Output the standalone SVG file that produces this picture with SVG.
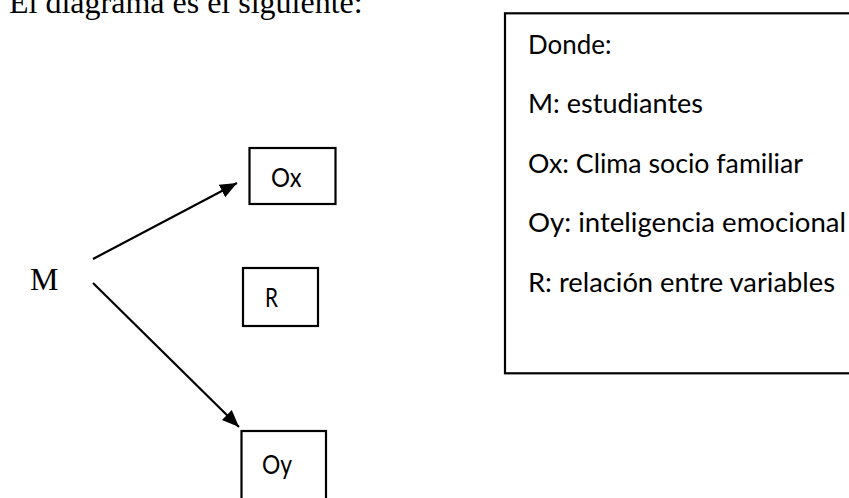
<svg xmlns="http://www.w3.org/2000/svg" width="849" height="498" viewBox="0 0 849 498">
<style>
.serif{font-family:"Liberation Serif","Times New Roman",serif;font-size:32px;fill:#000}
.sans{font-family:Lato,"Open Sans","Liberation Sans",sans-serif;font-size:27.5px;fill:#000}
.box{fill:#fff;stroke:#000;stroke-width:2.2}
.conn{stroke:#000;stroke-width:2.2;fill:none;marker-end:url(#arrow)}
</style>
<defs>
<marker id="arrow" markerUnits="userSpaceOnUse" markerWidth="20" markerHeight="16" refX="17" refY="7" orient="auto">
<path d="M0,0 L17,7 L0,14 z" fill="#000"/>
</marker>
</defs>
<rect width="849" height="498" fill="#fff"/>
<text class="serif" x="9" y="13">El diagrama es el siguiente:</text>
<g id="node-M"><text class="serif" x="30" y="290">M</text></g>
<g id="node-Ox"><rect class="box" x="249.5" y="148" width="86" height="56"/><text class="sans" x="271" y="187" textLength="30.5" lengthAdjust="spacingAndGlyphs">Ox</text></g>
<g id="node-R"><rect class="box" x="243" y="268" width="75" height="58"/><text class="sans" x="265" y="307" textLength="13" lengthAdjust="spacingAndGlyphs">R</text></g>
<g id="node-Oy"><rect class="box" x="241.5" y="431" width="84.5" height="90"/><text class="sans" x="262" y="474" textLength="30" lengthAdjust="spacingAndGlyphs">Oy</text></g>
<g id="legend">
<rect class="box" x="505" y="13.3" width="360" height="360"/>
<text class="sans" x="528" y="53.5" textLength="83.5" lengthAdjust="spacingAndGlyphs">Donde:</text>
<text class="sans" x="528" y="113" textLength="175" lengthAdjust="spacingAndGlyphs">M: estudiantes</text>
<text class="sans" x="528" y="173" textLength="275" lengthAdjust="spacingAndGlyphs">Ox: Clima socio familiar</text>
<text class="sans" x="528" y="232.3" textLength="318" lengthAdjust="spacingAndGlyphs">Oy: inteligencia emocional</text>
<text class="sans" x="528" y="291.7" textLength="307" lengthAdjust="spacingAndGlyphs">R: relación entre variables</text>
</g>
<g id="connectors">
<line class="conn" x1="93" y1="259" x2="237" y2="183"/>
<line class="conn" x1="93" y1="283" x2="239" y2="427"/>
</g>
</svg>
